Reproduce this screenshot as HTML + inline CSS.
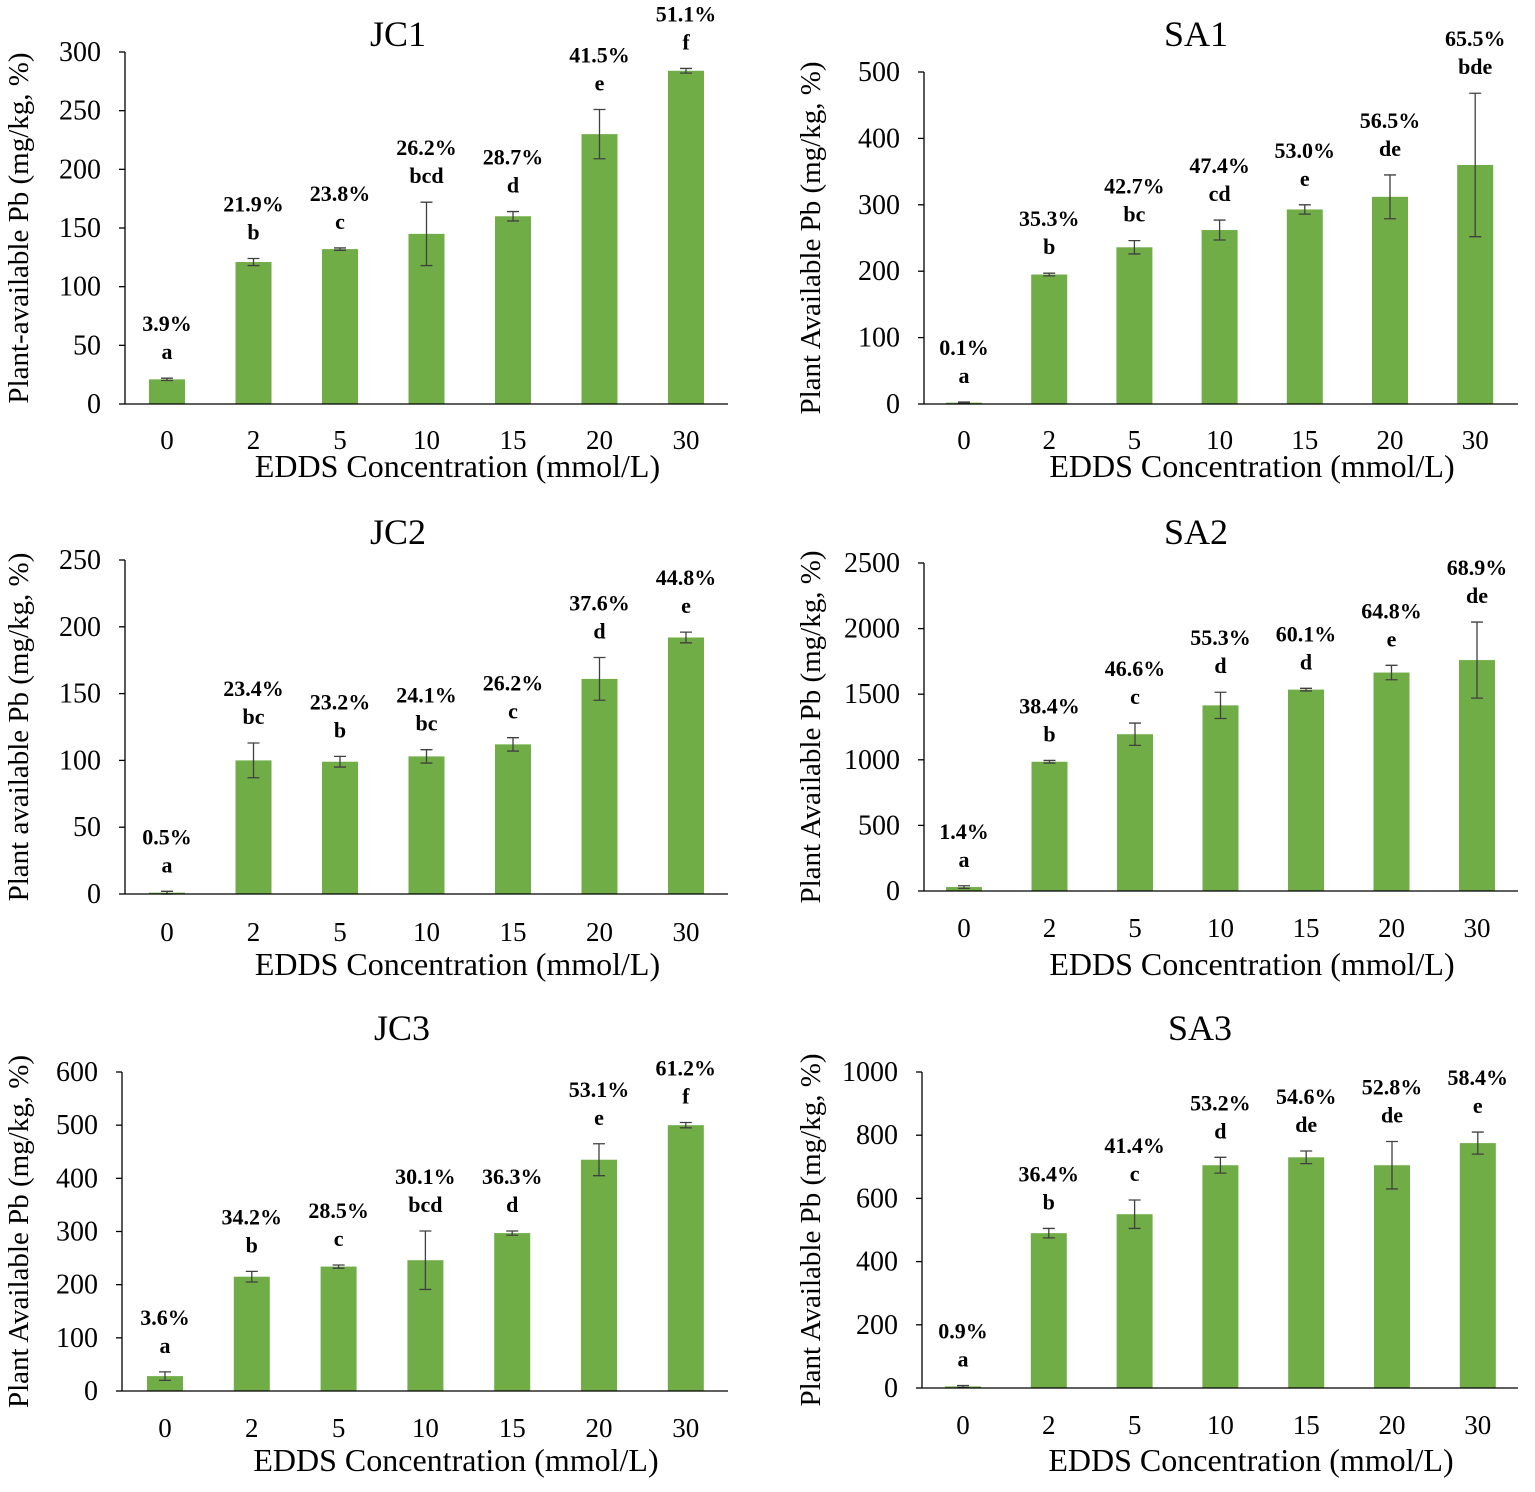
<!DOCTYPE html>
<html><head><meta charset="utf-8">
<style>
html,body{margin:0;padding:0;background:#fff;}
svg{display:block;font-family:"Liberation Serif",serif;}
</style></head>
<body>
<svg id="c" width="1535" height="1492" viewBox="0 0 1535 1492"></svg>
<script>
const categories = ["0","2","5","10","15","20","30"];
const jc1Values = [21,121,132,145,160,230,284];
const jc1Err = [1,3,1,27,4,21,2];
const jc1Pct = ["3.9%","21.9%","23.8%","26.2%","28.7%","41.5%","51.1%"];
const jc1Let = ["a","b","c","bcd","d","e","f"];
const sa1Values = [2,195,236,262,293,312,360];
const sa1Err = [1,2,10,15,7,33,108];
const sa1Pct = ["0.1%","35.3%","42.7%","47.4%","53.0%","56.5%","65.5%"];
const sa1Let = ["a","b","bc","cd","e","de","bde"];
const jc2Values = [1,100,99,103,112,161,192];
const jc2Err = [1,13,4,5,5,16,4];
const jc2Pct = ["0.5%","23.4%","23.2%","24.1%","26.2%","37.6%","44.8%"];
const jc2Let = ["a","bc","b","bc","c","d","e"];
const sa2Values = [30,985,1195,1415,1535,1665,1760];
const sa2Err = [10,10,85,100,10,55,290];
const sa2Pct = ["1.4%","38.4%","46.6%","55.3%","60.1%","64.8%","68.9%"];
const sa2Let = ["a","b","c","d","d","e","de"];
const jc3Values = [28,215,234,246,297,435,500];
const jc3Err = [8,10,3,55,4,30,5];
const jc3Pct = ["3.6%","34.2%","28.5%","30.1%","36.3%","53.1%","61.2%"];
const jc3Let = ["a","b","c","bcd","d","e","f"];
const sa3Values = [5,490,550,705,730,705,775];
const sa3Err = [3,15,45,25,20,75,35];
const sa3Pct = ["0.9%","36.4%","41.4%","53.2%","54.6%","52.8%","58.4%"];
const sa3Let = ["a","b","c","d","de","de","e"];
const jc1Ticks = [0,50,100,150,200,250,300];
const sa1Ticks = [0,100,200,300,400,500];
const jc2Ticks = [0,50,100,150,200,250];
const sa2Ticks = [0,500,1000,1500,2000,2500];
const jc3Ticks = [0,100,200,300,400,500,600];
const sa3Ticks = [0,200,400,600,800,1000];

const svg = document.getElementById('c');
const NS = 'http://www.w3.org/2000/svg';
function mk(tag, attrs, parent){const e=document.createElementNS(NS,tag);for(const k in attrs)e.setAttribute(k,attrs[k]);(parent||svg).appendChild(e);return e;}

const panels = [
 {id:'jc1',title:'JC1',ytitle:'Plant-available Pb (mg/kg, %)',ax:125,x0:167,dx:86.5,y0:404,y1:52,xend:728,titleX:398,titleY:46,xlabY:449,xtitY:477,ytx:18,vals:jc1Values,err:jc1Err,pct:jc1Pct,let:jc1Let,ticks:jc1Ticks},
 {id:'sa1',title:'SA1',ytitle:'Plant Available Pb (mg/kg, %)',ax:924,x0:964,dx:85.2,y0:404,y1:72,xend:1518,titleX:1196,titleY:46,xlabY:449,xtitY:477,ytx:810,vals:sa1Values,err:sa1Err,pct:sa1Pct,let:sa1Let,ticks:sa1Ticks},
 {id:'jc2',title:'JC2',ytitle:'Plant available Pb (mg/kg, %)',ax:125,x0:167,dx:86.5,y0:894,y1:560,xend:728,titleX:398,titleY:544,xlabY:941,xtitY:975,ytx:18,vals:jc2Values,err:jc2Err,pct:jc2Pct,let:jc2Let,ticks:jc2Ticks},
 {id:'sa2',title:'SA2',ytitle:'Plant Available Pb  (mg/kg, %)',ax:924,x0:964,dx:85.5,y0:891,y1:563,xend:1518,titleX:1196,titleY:544,xlabY:937,xtitY:975,ytx:810,vals:sa2Values,err:sa2Err,pct:sa2Pct,let:sa2Let,ticks:sa2Ticks},
 {id:'jc3',title:'JC3',ytitle:'Plant Available Pb (mg/kg, %)',ax:122,x0:165,dx:86.8,y0:1391,y1:1072,xend:728,titleX:402,titleY:1040,xlabY:1437,xtitY:1471,ytx:18,vals:jc3Values,err:jc3Err,pct:jc3Pct,let:jc3Let,ticks:jc3Ticks},
 {id:'sa3',title:'SA3',ytitle:'Plant Available Pb (mg/kg, %)',ax:922,x0:963,dx:85.8,y0:1388,y1:1072,xend:1518,titleX:1200,titleY:1040,xlabY:1434,xtitY:1471,ytx:810,vals:sa3Values,err:sa3Err,pct:sa3Pct,let:sa3Let,ticks:sa3Ticks}
];

panels.forEach(p=>{
 const g = mk('g',{});
 
 
 const ymax = p.ticks[p.ticks.length-1];
 const ys = v => p.y0 - (v/ymax)*(p.y0-p.y1);
 const xs = i => p.x0 + i*p.dx;
 const t = mk('text',{x:p.titleX,y:p.titleY,'font-size':36,'text-anchor':'middle',fill:'#000'},g);
 t.textContent=p.title;
 
 
 p.ticks.forEach(v=>{
  const tl = mk('text',{x:p.ax-24,y:ys(v)+9,'font-size':28,'text-anchor':'end',fill:'#000'},g);
  tl.textContent=v;
  
  
  mk('line',{x1:p.ax-6,x2:p.ax,y1:ys(v),y2:ys(v),stroke:'#000','stroke-width':1.3},g);
 });
 const ya = mk('line',{x1:p.ax,x2:p.ax,y1:p.y1,y2:p.y0,stroke:'#000','stroke-width':1.3},g);
 
 
 const yc=(p.y0+p.y1)/2;
 const yt = mk('text',{x:p.ytx,y:yc,'font-size':29,'text-anchor':'middle',transform:`rotate(-90 ${p.ytx} ${yc}) translate(0 10)`,fill:'#000'},g);
 yt.textContent=p.ytitle;
 
 
 p.vals.forEach((v,i)=>{
  const x=xs(i), top=ys(v), bw=36;
  const b = mk('rect',{x:x-bw/2,y:top,width:bw,height:p.y0-top,fill:'#70ad47'},g);
  
  
  const et=ys(v+p.err[i]), eb=ys(Math.max(0,v-p.err[i]));
  const e = mk('path',{d:`M${x} ${et}V${eb}M${x-6} ${et}H${x+6}M${x-6} ${eb}H${x+6}`,stroke:'#404040','stroke-width':1.3,fill:'none'},g);
  
  
  const l = mk('text',{x:x,y:et-19,'font-size':22,'font-weight':'bold','text-anchor':'middle',fill:'#000'},g);
  l.textContent=p.let[i];
  
  
  const pc = mk('text',{x:x,y:et-47,'font-size':22,'font-weight':'bold','text-anchor':'middle',fill:'#000'},g);
  pc.textContent=p.pct[i];
  
  
  const xl = mk('text',{x:x,y:p.xlabY,'font-size':27,'text-anchor':'middle',fill:'#000'},g);
  xl.textContent=categories[i];
  
  
 });
 const xa = mk('line',{x1:p.ax,x2:p.xend,y1:p.y0,y2:p.y0,stroke:'#000','stroke-width':1.3},g);
 
 
 const xt = mk('text',{x:(p.ax+p.xend)/2+31,y:p.xtitY,'font-size':32,'text-anchor':'middle',fill:'#000'},g);
 xt.textContent='EDDS Concentration (mmol/L)';
 
 
});
</script>
</body></html>
